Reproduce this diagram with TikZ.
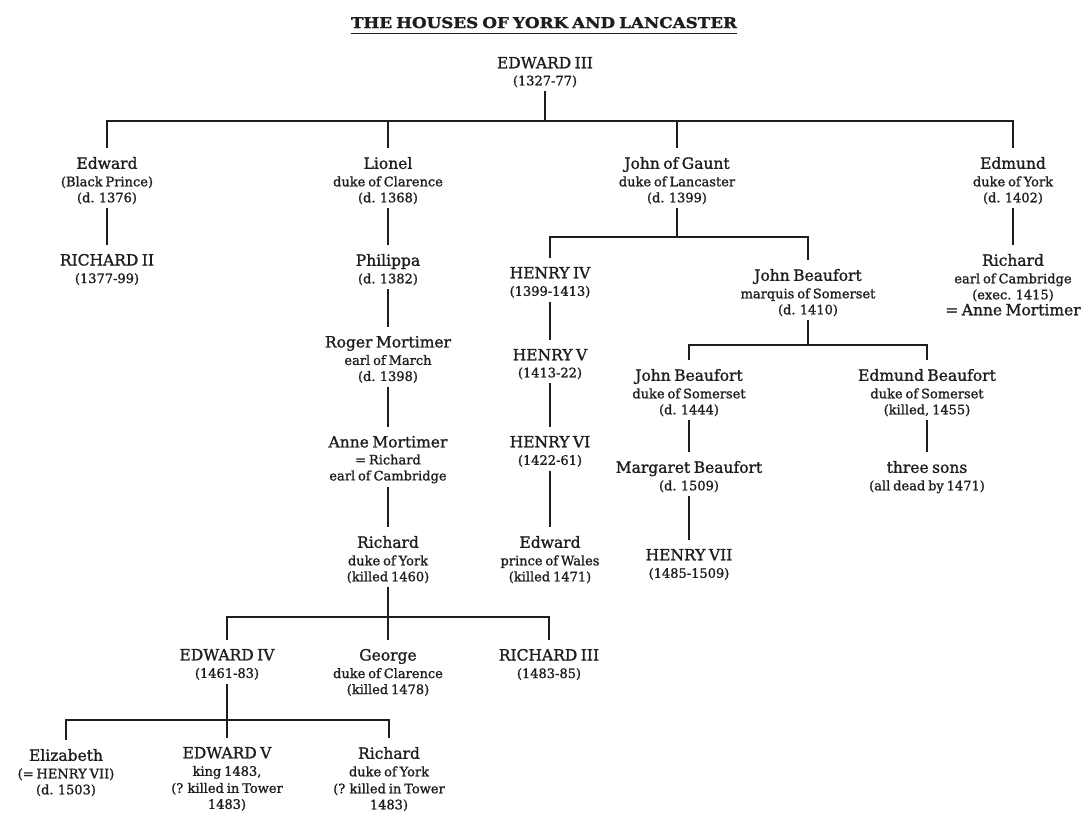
\documentclass[tikz,border=0pt]{standalone}
\usepackage{fontspec}
\setmainfont{DejaVu Serif}[WordSpace=0.7, FakeBold=1.2]
\usepackage{graphicx}
\definecolor{ink}{HTML}{1E1E1E}
\newcommand\pname{\fontsize{15.5}{19}\selectfont}
\newcommand\pinfo{\fontsize{13}{16}\selectfont}
\begin{document}
\begin{tikzpicture}[x=1pt,y=-1pt,
  every node/.style={text=ink, inner xsep=2pt, inner ysep=4pt, outer sep=0pt},
  person/.style={align=center, anchor=north, font=\pinfo},
  link/.style={draw=ink, line width=1.1pt},
  tochild/.style={link, shorten >=5pt},
  bar/.style={link, shorten <=5pt, shorten >=5pt}]
\fill[white] (0,0) rectangle (1087,814);
\useasboundingbox (0,0) rectangle (1087,814);

% title
\node[anchor=base, inner sep=0pt, text depth=5.5pt] (title) at (544,28)
  {\resizebox{386pt}{11pt}{\bfseries THE HOUSES OF YORK AND LANCASTER}};
\draw[link, line width=1.8pt] (title.south west) -- (title.south east);

% generation 0
\node[person] (e3) at (545,53) {{\pname EDWARD III}\\[1pt](1327-77)};

% generation 1
\node[person] (edw) at (107,153) {{\pname Edward}\\[1.5pt](Black Prince)\\(d. 1376)};
\node[person] (lio) at (388,153) {{\pname Lionel}\\[1.5pt]duke of Clarence\\(d. 1368)};
\node[person] (jog) at (677,153) {{\pname John of Gaunt}\\[1.5pt]duke of Lancaster\\(d. 1399)};
\node[person] (edm) at (1013,153) {{\pname Edmund}\\[1.5pt]duke of York\\(d. 1402)};

% generation 2
\node[person] (r2) at (107,250) {{\pname RICHARD II}\\[1.5pt](1377-99)};
\node[person] (phi) at (388,250) {{\pname Philippa}\\[1.5pt](d. 1382)};
\node[person] (h4) at (550,263) {{\pname HENRY IV}\\[1.5pt](1399-1413)};
\node[person] (jb1) at (808,265) {{\pname John Beaufort}\\[1.5pt]marquis of Somerset\\(d. 1410)};
\node[person] (ric) at (1013,250) {{\pname Richard}\\[1.5pt]earl of Cambridge\\(exec. 1415)\\{\pname = Anne Mortimer}};

% generation 3
\node[person] (rog) at (388,332) {{\pname Roger Mortimer}\\[1.5pt]earl of March\\(d. 1398)};
\node[person] (h5) at (550,345) {{\pname HENRY V}\\[1pt](1413-22)};
\node[person] (jb2) at (689,365) {{\pname John Beaufort}\\[1.5pt]duke of Somerset\\(d. 1444)};
\node[person] (eb) at (927,365) {{\pname Edmund Beaufort}\\[1.5pt]duke of Somerset\\(killed, 1455)};

% generation 4
\node[person] (anne) at (388,432) {{\pname Anne Mortimer}\\[1pt]= Richard\\earl of Cambridge};
\node[person] (h6) at (550,432) {{\pname HENRY VI}\\[1.5pt](1422-61)};
\node[person] (mb) at (689,457) {{\pname Margaret Beaufort}\\[1.5pt](d. 1509)};
\node[person] (ts) at (927,457) {{\pname three sons}\\[1.5pt](all dead by 1471)};

% generation 5
\node[person] (rdy) at (388,532) {{\pname Richard}\\[1.5pt]duke of York\\(killed 1460)};
\node[person] (epw) at (550,532) {{\pname Edward}\\[1.5pt]prince of Wales\\(killed 1471)};
\node[person] (h7) at (689,545) {{\pname HENRY VII}\\[1.5pt](1485-1509)};

% generation 6
\node[person] (e4) at (227,645) {{\pname EDWARD IV}\\[1.5pt](1461-83)};
\node[person] (geo) at (388,645) {{\pname George}\\[1.5pt]duke of Clarence\\(killed 1478)};
\node[person] (r3) at (549,645) {{\pname RICHARD III}\\[1.5pt](1483-85)};

% generation 7
\node[person] (eliz) at (66,745) {{\pname Elizabeth}\\[1.5pt](= HENRY VII)\\(d. 1503)};
\node[person] (e5) at (227,743) {{\pname EDWARD V}\\[1.5pt]king 1483,\\[1pt](? killed in Tower\\1483)};
\node[person] (rdy2) at (389,743) {{\pname Richard}\\[1.5pt]duke of York\\[1pt](? killed in Tower\\1483)};

% bar points
\coordinate (b0) at (545,121);
\coordinate (bjog) at (677,237);
\coordinate (bjb) at (808,345);
\coordinate (brdy) at (388,617);
\coordinate (be4) at (227,720);

% Edward III's children
\draw[link] (e3.south) -- (b0);
\draw[bar] (edw.north) |- (b0) -| (edm.north);
\draw[tochild] (lio.north |- b0) -- (lio.north);
\draw[tochild] (jog.north |- b0) -- (jog.north);

% single descents
\draw[tochild] (edw.south) -- (r2.north);
\draw[tochild] (lio.south) -- (phi.north);
\draw[tochild] (phi.south) -- (rog.north);
\draw[tochild] (rog.south) -- (anne.north);
\draw[tochild] (anne.south) -- (rdy.north);
\draw[tochild] (edm.south) -- (ric.north);
\draw[tochild] (h4.south) -- (h5.north);
\draw[tochild] (h5.south) -- (h6.north);
\draw[tochild] (h6.south) -- (epw.north);
\draw[tochild] (jb2.south) -- (mb.north);
\draw[tochild] (mb.south) -- (h7.north);
\draw[tochild] (eb.south) -- (ts.north);

% John of Gaunt's children
\draw[link] (jog.south) -- (bjog);
\draw[bar] (h4.north) |- (bjog) -| (jb1.north);

% John Beaufort's children
\draw[link] (jb1.south) -- (bjb);
\draw[bar] (jb2.north) |- (bjb) -| (eb.north);

% Richard duke of York's children
\draw[tochild] (rdy.south) -- (geo.north);
\draw[bar] (e4.north) |- (brdy) -| (r3.north);

% Edward IV's children
\draw[tochild] (e4.south) -- (e5.north);
\draw[bar] (eliz.north) |- (be4) -| (rdy2.north);
\end{tikzpicture}
\end{document}
